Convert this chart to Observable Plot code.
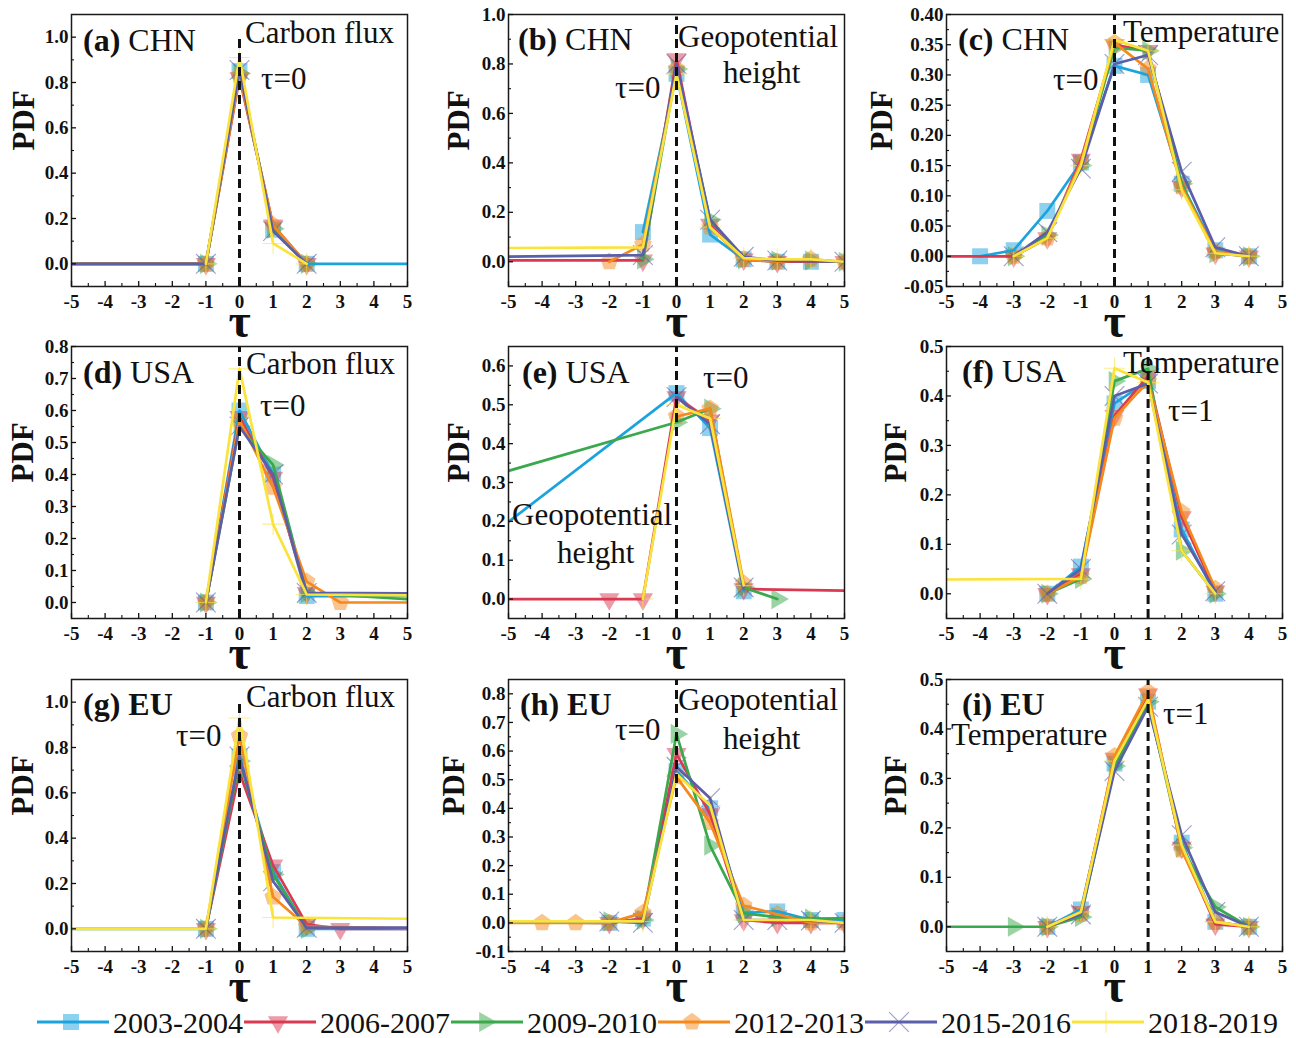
<!DOCTYPE html>
<html><head><meta charset="utf-8">
<script src="https://cdn.jsdelivr.net/npm/d3@7"></script>
<script src="https://cdn.jsdelivr.net/npm/@observablehq/plot@0.6"></script>
<style>
body{margin:0;background:#fff;}
#root{position:relative;width:1296px;height:1038px;overflow:hidden;}
#root svg{position:absolute;overflow:visible;}
</style></head><body><div id="root"></div>
<script>
const FONT = '"Liberation Serif", "Times New Roman", serif';
const series = ["2003-2004","2006-2007","2009-2010","2012-2013","2015-2016","2018-2019"];
const lineColors = ["#1ba3de","#d93a52","#3aa84c","#f5891e","#5b5ea8","#fae33b"];
const tauTicks = [-5,-4,-3,-2,-1,0,1,2,3,4,5];

// [tau, PDF] pairs, one list per series (order of `series`); points beyond ±5 only continue a line past the frame
const chnCarbon = [
  [[-6,0],[-1,0],[0,0.85],[1,0.15],[2,0],[6,0]],
  [[-6,0],[-1,0],[0,0.82],[1,0.17],[2,0]],
  [[-6,0],[-1,0],[0,0.84],[1,0.155],[2,0]],
  [[-6,0],[-1,0],[0,0.83],[1,0.17],[2,0]],
  [[-6,0],[-1,0],[0,0.855],[1,0.145],[2,0]],
  [[-1,0],[0,0.91],[1,0.09],[2,0]]
];
const chnGeo = [
  [[-1,0.12],[0,0.76],[1,0.11],[2,0.01],[3,0],[4,0]],
  [[-8,0.006],[-1,0.006],[0,0.82],[1,0.15],[2,0.01],[3,0],[5,0]],
  [[-1,0.01],[0,0.78],[1,0.17],[2,0.01],[3,0.005],[4,0.005],[5,0]],
  [[-2,0],[-1,0.07],[0,0.78],[1,0.14],[2,0.01],[3,0],[4,0.01],[5,0]],
  [[-8,0.016],[-1,0.027],[0,0.80],[1,0.17],[2,0.02],[3,0.005],[5,0]],
  [[-8,0.054],[-1,0.058],[0,0.76],[1,0.14],[2,0.015],[3,0.01],[4,0.01],[5,0]]
];
const chnTemp = [
  [[-4,0],[-3,0.01],[-2,0.075],[-1,0.155],[0,0.315],[1,0.30],[2,0.12],[3,0.01],[4,0]],
  [[-8,0],[-3,0],[-2,0.03],[-1,0.16],[0,0.35],[1,0.34],[2,0.115],[3,0.005],[4,0]],
  [[-3,0],[-2,0.035],[-1,0.15],[0,0.345],[1,0.34],[2,0.12],[3,0.005],[4,0]],
  [[-3,0],[-2,0.03],[-1,0.155],[0,0.353],[1,0.31],[2,0.115],[3,0.008],[4,0]],
  [[-3,0],[-2,0.04],[-1,0.145],[0,0.318],[1,0.333],[2,0.14],[3,0.015],[4,0]],
  [[-3,0],[-2,0.03],[-1,0.15],[0,0.358],[1,0.34],[2,0.11],[3,0.005],[4,0]]
];
const usaCarbon = [
  [[-1,0],[0,0.60],[1,0.40],[2,0.02],[8,0.02]],
  [[-1,0],[0,0.58],[1,0.39],[2,0.03]],
  [[-1,0],[0,0.55],[1,0.43],[2,0.03],[6.5,0]],
  [[-1,0],[0,0.57],[1,0.36],[2,0.065],[3,0],[8,0]],
  [[-1,0],[0,0.55],[1,0.40],[2,0.03],[8,0.027]],
  [[-1,0],[0,0.73],[1,0.245],[2,0.025],[8,0.02]]
];
const usaGeo = [
  [[-8,0],[0,0.53],[1,0.44],[2,0.02]],
  [[-6,0],[-2,0],[-1,0],[0,0.52],[1,0.46],[2,0.026],[6,0.02]],
  [[-18,0.005],[0,0.455],[1,0.49],[2,0.03],[3,0]],
  [[0,0.47],[1,0.49],[2,0.04]],
  [[0,0.52],[1,0.45],[2,0.03]],
  [[-1,0],[0,0.50],[1,0.465],[2,0.035]]
];
const usaTemp = [
  [[-2,0],[-1,0.055],[0,0.385],[1,0.43],[2,0.13],[3,0]],
  [[-2,0],[-1,0.04],[0,0.36],[1,0.44],[2,0.155],[3,0.005]],
  [[-2,0],[-1,0.03],[0,0.43],[1,0.455],[2,0.087],[3,0]],
  [[-2,0],[-1,0.035],[0,0.355],[1,0.43],[2,0.165],[3,0.01]],
  [[-2,0],[-1,0.05],[0,0.40],[1,0.425],[2,0.12],[3,0.005]],
  [[-8,0.028],[-1,0.03],[0,0.456],[1,0.427],[2,0.087],[3,0]]
];
const euCarbon = [
  [[-8,0],[-1,0],[0,0.76],[1,0.25],[2,0],[6,0]],
  [[-1,0],[0,0.69],[1,0.28],[2,0.02],[3,0],[6,0]],
  [[-1,0],[0,0.74],[1,0.24],[2,0]],
  [[-1,0],[0,0.85],[1,0.14],[2,0.01],[6,0]],
  [[-1,0],[0,0.76],[1,0.21],[2,0.005],[6,0.005]],
  [[-8,0],[-1,0],[0,0.93],[1,0.05],[6,0.043]]
];
const euGeo = [
  [[-8,0.005],[-2,0],[-1,0.015],[0,0.53],[1,0.40],[2,0.035],[3,0.04],[4,0.01],[5,0.01]],
  [[-8,0.005],[-2,0],[-1,0.015],[0,0.59],[1,0.38],[2,0.01],[3,0],[4,0],[5,0]],
  [[-8,0.005],[-2,0.005],[-1,0.01],[0,0.66],[1,0.27],[2,0.033],[3,0.02],[4,0.015],[6,0.017]],
  [[-8,0],[-4,0],[-3,0],[-2,0],[-1,0.035],[0,0.51],[1,0.35],[2,0.06],[3,0.03],[4,0],[5,0]],
  [[-8,0.005],[-2,0.005],[-1,0],[0,0.545],[1,0.435],[2,0.01],[3,0.01],[4,0.008],[5,0]],
  [[-8,0.005],[-1,0.005],[0,0.52],[1,0.41],[2,0.01],[3,0.01],[4,0.01],[5,0]]
];
const euTemp = [
  [[-2,0],[-1,0.035],[0,0.33],[1,0.455],[2,0.17],[3,0.01],[4,0]],
  [[-2,0],[-1,0.03],[0,0.34],[1,0.47],[2,0.16],[3,0.005],[4,0]],
  [[-8,0],[-3,0],[-2,0],[-1,0.02],[0,0.325],[1,0.455],[2,0.16],[3,0.04],[4,0]],
  [[-2,0],[-1,0.025],[0,0.345],[1,0.475],[2,0.155],[3,0.01],[4,0]],
  [[-2,0],[-1,0.025],[0,0.315],[1,0.445],[2,0.185],[3,0.03],[4,0]],
  [[-2,0],[-1,0.03],[0,0.335],[1,0.46],[2,0.165],[3,0.01],[4,0]]
];

const ticks02 = [0,0.2,0.4,0.6,0.8,1.0];
const ticksTempCHN = [-0.05,0,0.05,0.10,0.15,0.20,0.25,0.30,0.35,0.40];
const ticks08 = [0,0.1,0.2,0.3,0.4,0.5,0.6,0.7,0.8];
const ticks06 = [0,0.1,0.2,0.3,0.4,0.5,0.6];
const ticks05 = [0,0.1,0.2,0.3,0.4,0.5];
const ticksGeoEU = [-0.1,0,0.1,0.2,0.3,0.4,0.5,0.6,0.7,0.8];

// custom marker shapes
const symTriDown = {draw(c, size) { const a = Math.sqrt(size * 4 / Math.sqrt(3)), h = a * Math.sqrt(3) / 2;
  c.moveTo(0, 2*h/3); c.lineTo(-a/2, -h/3); c.lineTo(a/2, -h/3); c.closePath(); }};
const symTriRight = {draw(c, size) { const a = Math.sqrt(size * 4 / Math.sqrt(3)), h = a * Math.sqrt(3) / 2;
  c.moveTo(2*h/3, 0); c.lineTo(-h/3, -a/2); c.lineTo(-h/3, a/2); c.closePath(); }};
const symPentagon = {draw(c, size) { const R = Math.sqrt(size / (2.5 * Math.sin(2*Math.PI/5)));
  for (let k = 0; k < 5; k++) { const t = -Math.PI/2 + k*2*Math.PI/5; const x = R*Math.cos(t), y = R*Math.sin(t); k ? c.lineTo(x, y) : c.moveTo(x, y); } c.closePath(); }};
const markers = [
  {symbol: d3.symbolSquare, r: 9, filled: true},
  {symbol: symTriDown, r: 7.5, filled: true},
  {symbol: symTriRight, r: 7.5, filled: true},
  {symbol: symPentagon, r: 8, filled: true},
  {symbol: d3.symbolTimes, r: 9, filled: false},
  {symbol: d3.symbolPlus, r: 7, filled: false}
];

const panels = [
  {id:"a", region:"CHN", bold:false, data:chnCarbon, yDomain:[-0.1,1.1], ticks:ticks02, digits:1, lag:0, col:0, row:0, pdfDx:-47,
   title:[12,37], vars:[["Carbon flux",174,29]], lagPos:[190,75]},
  {id:"b", region:"CHN", bold:false, data:chnGeo, yDomain:[-0.1,1.0], ticks:ticks02, digits:1, lag:0, col:1, row:0, pdfDx:-49,
   title:[10,36], vars:[["Geopotential",170,33],["height",215,69]], lagPos:[107,84]},
  {id:"c", region:"CHN", bold:false, data:chnTemp, yDomain:[-0.05,0.40], ticks:ticksTempCHN, digits:2, lag:0, col:2, row:0, pdfDx:-64,
   title:[12,36], vars:[["Temperature",177,28]], lagPos:[107,76]},
  {id:"d", region:"USA", bold:false, data:usaCarbon, yDomain:[-0.05,0.8], ticks:ticks08, digits:1, lag:0, col:0, row:1, pdfDx:-48,
   title:[12,37], vars:[["Carbon flux",175,28]], lagPos:[189,70]},
  {id:"e", region:"USA", bold:false, data:usaGeo, yDomain:[-0.05,0.65], ticks:ticks06, digits:1, lag:0, col:1, row:1, pdfDx:-49,
   title:[14,37], vars:[["Geopotential",4,179],["height",49,217]], lagPos:[195,42]},
  {id:"f", region:"USA", bold:false, data:usaTemp, yDomain:[-0.05,0.5], ticks:ticks05, digits:1, lag:1, col:2, row:1, pdfDx:-50,
   title:[16,36], vars:[["Temperature",177,27]], lagPos:[222,75]},
  {id:"g", region:"EU", bold:true, data:euCarbon, yDomain:[-0.1,1.1], ticks:ticks02, digits:1, lag:0, col:0, row:2, pdfDx:-48,
   title:[12,36], vars:[["Carbon flux",175,28]], lagPos:[105,67]},
  {id:"h", region:"EU", bold:true, data:euGeo, yDomain:[-0.1,0.85], ticks:ticksGeoEU, digits:1, lag:0, col:1, row:2, pdfDx:-54,
   title:[12,36], vars:[["Geopotential",170,31],["height",215,70]], lagPos:[107,61]},
  {id:"i", region:"EU", bold:true, data:euTemp, yDomain:[-0.05,0.5], ticks:ticks05, digits:1, lag:1, col:2, row:2, pdfDx:-50,
   title:[16,36], vars:[["Temperature",5,66]], lagPos:[217,45]}
];

const colLeft = [0, 437, 875];
const rowTop = [0, 332, 665];
const ML = 71, MT = 14;
const root = document.getElementById("root");

function drawPanel(p) {
  const bySeries = p.data.map(pts => pts.map(([tau, pdf]) => ({tau, pdf})));
  const minor = p.ticks.slice(1).map((t, k) => (t + p.ticks[k]) / 2);
  const xMinor = tauTicks.slice(1).map((t, k) => (t + tauTicks[k]) / 2);
  const fmt = d => d.toFixed(p.digits);
  const marks = [];
  bySeries.forEach((d, i) => {
    const m = markers[i];
    marks.push(Plot.dot(d, {x: "tau", y: "pdf", symbol: m.symbol, r: m.r, clip: true,
      ...(m.filled ? {fill: lineColors[i], fillOpacity: 0.5, stroke: "none"}
                   : {fill: "none", stroke: lineColors[i], strokeOpacity: 0.6, strokeWidth: 1.1})}));
  });
  bySeries.forEach((d, i) => marks.push(Plot.line(d, {x: "tau", y: "pdf", stroke: lineColors[i], strokeWidth: 2.7, clip: true})));
  marks.push(Plot.ruleX([p.lag], {y1: p.yDomain[0], y2: Math.min(p.yDomain[1], 0.99), stroke: "#111", strokeWidth: 3, strokeDasharray: "9,5"}));
  marks.push(
    Plot.frame({stroke: "#1a1a1a", strokeWidth: 1.5}),
    Plot.axisX(tauTicks, {tickSize: 0, tickPadding: 8, tickFormat: d => String(d), fontFamily: FONT, fontSize: 19, fontWeight: "bold", label: null}),
    Plot.axisX(tauTicks, {tickSize: -5, fill: "none", label: null, strokeWidth: 1.3}),
    Plot.axisX(xMinor, {tickSize: -3, fill: "none", label: null, strokeWidth: 1.1}),
    Plot.axisY(p.ticks, {tickSize: 0, tickPadding: 3, tickFormat: fmt, fontFamily: FONT, fontSize: 19, fontWeight: "bold", label: null}),
    Plot.axisY(p.ticks, {tickSize: -5, fill: "none", label: null, strokeWidth: 1.3}),
    Plot.axisY(minor, {tickSize: -3, fill: "none", label: null, strokeWidth: 1.1}),
    Plot.text(["PDF"], {frameAnchor: "left", dx: p.pdfDx, rotate: -90, fontFamily: FONT, fontSize: 31, fontWeight: "bold"}),
    Plot.text(["τ"], {frameAnchor: "bottom", dy: 50, lineAnchor: "bottom", fontFamily: FONT, fontSize: 48, fontWeight: "bold"})
  );
  const svg = Plot.plot({
    width: 419, height: 340, marginLeft: ML, marginRight: 12, marginTop: MT, marginBottom: 54,
    x: {domain: [-5, 5], label: null},
    y: {domain: p.yDomain, label: null},
    style: {background: "transparent", fontFamily: FONT, color: "#111"},
    marks
  });
  svg.style.left = colLeft[p.col] + "px";
  svg.style.top = rowTop[p.row] + "px";
  const g = d3.select(svg).append("g").attr("font-family", FONT).attr("fill", "#111")
    .attr("font-size", 31).attr("text-anchor", "start");
  const t = g.append("text").attr("x", ML + p.title[0]).attr("y", MT + p.title[1]).attr("font-size", 32);
  t.append("tspan").attr("font-weight", "bold").text("(" + p.id + ")\u00a0");
  t.append("tspan").attr("font-weight", p.bold ? "bold" : "normal").text(p.region);
  p.vars.forEach(([txt, dx, dy]) => g.append("text").attr("x", ML + dx).attr("y", MT + dy).text(txt));
  g.append("text").attr("x", ML + p.lagPos[0]).attr("y", MT + p.lagPos[1]).text("τ=" + p.lag);
  root.appendChild(svg);
}
panels.forEach(drawPanel);

// legend
const leg = d3.select(root).append("svg").attr("width", 1296).attr("height", 38)
  .style("left", "0px").style("top", "1000px").attr("font-family", FONT);
series.forEach((s, i) => {
  const x0 = 37 + 207 * i, m = markers[i];
  leg.append("line").attr("x1", x0).attr("x2", x0 + 72).attr("y1", 22).attr("y2", 22)
    .attr("stroke", lineColors[i]).attr("stroke-width", 3);
  const path = leg.append("path").attr("transform", `translate(${x0 + 34},22)`)
    .attr("d", d3.symbol(m.symbol, m.r * m.r * Math.PI)());
  if (m.filled) path.attr("fill", lineColors[i]).attr("fill-opacity", 0.5);
  else path.attr("fill", "none").attr("stroke", lineColors[i]).attr("stroke-opacity", 0.6).attr("stroke-width", 1.1);
  leg.append("text").attr("x", x0 + 76).attr("y", 33).attr("font-size", 30).attr("fill", "#111").text(s);
});
</script></body></html>
